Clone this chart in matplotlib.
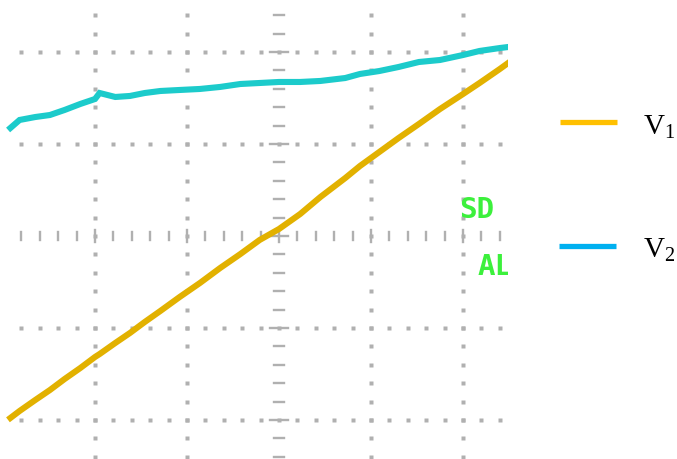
import numpy as np
import matplotlib
matplotlib.use('Agg')
import matplotlib.pyplot as plt

# время, деления экрана осциллографа
t = [-2.92, -2.82, -2.65, -2.49, -2.33, -2.16, -2.00, -1.95, -1.78, -1.62,
     -1.46, -1.29, -1.08, -0.86, -0.64, -0.42, -0.21, 0.00, 0.23, 0.45,
     0.72, 0.88, 1.09, 1.30, 1.52, 1.75, 2.00, 2.18, 2.40, 2.49]
# V2 (голубой луч), деления
v2 = [1.174, 1.261, 1.293, 1.315, 1.370, 1.435, 1.489, 1.554, 1.511, 1.522,
      1.554, 1.576, 1.587, 1.598, 1.620, 1.652, 1.663, 1.674, 1.674, 1.685,
      1.717, 1.761, 1.793, 1.837, 1.891, 1.913, 1.967, 2.011, 2.043, 2.054]
# V1 (желтый луч), деления
v1 = [-1.978, -1.902, -1.783, -1.674, -1.554, -1.435, -1.315, -1.283, -1.163, -1.054,
      -0.935, -0.815, -0.663, -0.511, -0.348, -0.196, -0.043, 0.076, 0.239, 0.424,
      0.630, 0.761, 0.913, 1.065, 1.217, 1.380, 1.543, 1.663, 1.815, 1.880]

labels = ['V$_1$', 'V$_2$']

plt.rcParams['mathtext.fontset'] = 'custom'
plt.rcParams['mathtext.rm'] = 'Liberation Serif'
plt.rcParams['mathtext.it'] = 'Liberation Serif'

fig = plt.figure(figsize=(6.77, 4.59), dpi=100)
W, H = 677, 459
ax = fig.add_axes([0, 0, 508 / W, 1])
ax.set_xlim(-3.033, 2.489)
ax.set_ylim(-2.424, 2.565)
ax.axis('off')

grid_col = '#b0b0b0'
minor = np.round(np.arange(-2.8, 2.41, 0.2), 2)
ymin = np.round(np.arange(-2.4, 2.41, 0.2), 2)

# точки сетки по вертикальным линиям
for gx in [-2, -1, 1, 2]:
    ax.plot([gx] * len(ymin), ymin, 's', ms=2.2, color=grid_col, mec='none')
# точки сетки по горизонтальным линиям
for gy in [-2, -1, 1, 2]:
    ax.plot(minor, [gy] * len(minor), 's', ms=2.2, color=grid_col, mec='none')

# центральные линии с рисками
for mx in minor:
    h = 0.07 if abs(mx - round(mx)) < 1e-6 else 0.045
    ax.plot([mx, mx], [-h, h], color=grid_col, lw=1.7)
for my in ymin:
    w = 0.1 if abs(my - round(my)) < 1e-6 else 0.055
    ax.plot([-w, w], [my, my], color=grid_col, lw=1.7)

ax.plot(t, v2, color='#1ccbcb', lw=4.4, solid_joinstyle='miter')
ax.plot(t, v1, color='#e2b100', lw=4.4, solid_joinstyle='miter')

ax.text(2.15, 0.28, 'SD', color='#3cf03c', fontsize=21, family='DejaVu Sans Mono',
        weight='bold', ha='center', va='center')
ax.text(2.16, -0.34, 'AL', color='#3cf03c', fontsize=21, family='DejaVu Sans Mono',
        weight='bold', ha='left', va='center', clip_on=True)

# легенда
lg = fig.add_axes([0, 0, 1, 1], facecolor='none')
lg.set_xlim(0, W)
lg.set_ylim(H, 0)
lg.axis('off')
lg.plot([560, 617], [122, 122], color='#ffc000', lw=3.8, solid_capstyle='butt')
lg.plot([559, 616], [246, 246], color='#00b0f0', lw=3.8, solid_capstyle='butt')
lg.text(643, 135, labels[0], fontsize=21, family='Liberation Serif', ha='left', va='baseline')
lg.text(643, 258, labels[1], fontsize=21, family='Liberation Serif', ha='left', va='baseline')

fig.savefig('out.png', dpi=100)
